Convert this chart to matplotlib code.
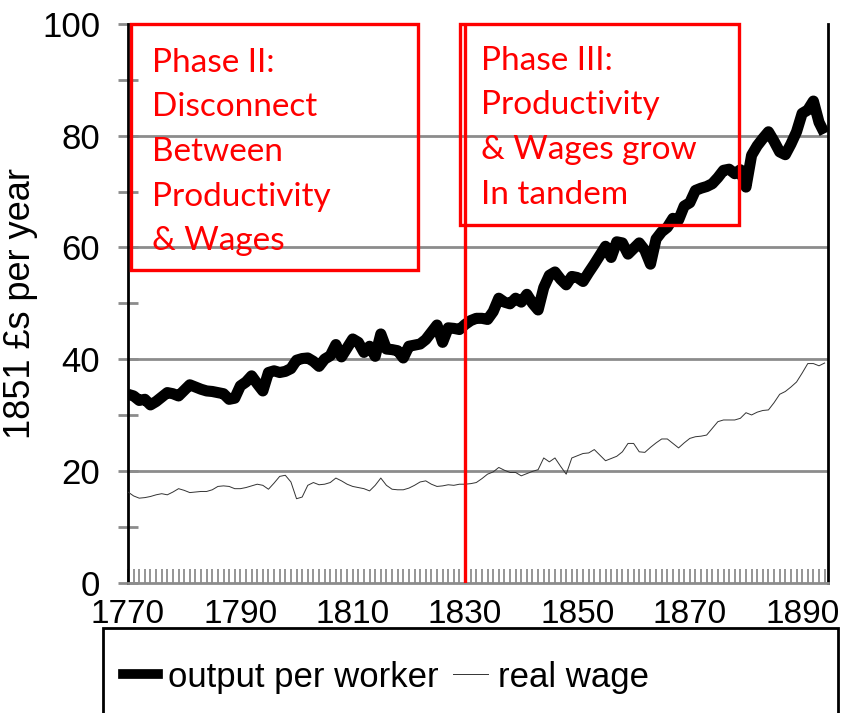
import numpy as np
import matplotlib
matplotlib.use('Agg')
import matplotlib.pyplot as plt
from matplotlib.patches import Rectangle
from matplotlib.lines import Line2D

plt.rcParams['font.family'] = ['Liberation Sans', 'DejaVu Sans']

# Data
years = list(range(1770, 1895))

output_per_worker = [
    33.7, 33.4, 32.6, 32.8, 31.8, 32.4, 33.2, 34.0, 33.8, 33.4,   # 1770s
    34.4, 35.4, 35.0, 34.6, 34.3, 34.2, 34.0, 33.8, 32.8, 33.0,   # 1780s
    35.2, 35.9, 37.0, 35.6, 34.3, 37.6, 37.9, 37.6, 37.8, 38.3,   # 1790s
    39.8, 40.1, 40.2, 39.6, 38.7, 40.0, 40.6, 42.6, 40.4, 42.0,   # 1800s
    43.6, 43.0, 41.2, 42.3, 40.5, 44.5, 41.8, 41.7, 41.5, 40.2,   # 1810s
    42.3, 42.5, 42.7, 43.5, 44.8, 46.1, 43.0, 45.6, 45.5, 45.3,   # 1820s
    46.2, 46.9, 47.3, 47.3, 47.1, 48.5, 50.9, 50.2, 49.9, 50.9,   # 1830s
    50.2, 51.6, 50.0, 48.8, 52.8, 55.0, 55.6, 54.3, 53.3, 54.8,   # 1840s
    54.6, 53.9, 55.5, 57.0, 58.6, 60.2, 58.2, 61.0, 60.8, 58.8,   # 1850s
    59.8, 60.8, 59.5, 57.0, 61.5, 62.8, 63.6, 65.2, 64.9, 67.4,   # 1860s
    68.0, 70.2, 70.6, 70.9, 71.4, 72.5, 73.8, 74.0, 73.2, 73.9,   # 1870s
    70.8, 76.5, 78.2, 79.5, 80.7, 79.0, 77.1, 76.6, 78.5, 80.7,   # 1880s
    84.0, 84.6, 86.2, 82.4, 80.4,                                 # 1890s
]

real_wage = [
    16.2, 15.5, 15.1, 15.2, 15.4, 15.7, 15.9, 15.7, 16.2, 16.8,
    16.5, 16.1, 16.2, 16.3, 16.3, 16.6, 17.2, 17.3, 17.2, 16.8,
    16.8, 17.0, 17.3, 17.6, 17.4, 16.7, 17.8, 19.0, 19.2, 18.0,
    15.0, 15.3, 17.4, 17.9, 17.5, 17.6, 17.9, 18.7, 18.2, 17.6,
    17.2, 17.0, 16.8, 16.4, 17.4, 18.7, 17.4, 16.7, 16.6, 16.6,
    16.9, 17.4, 18.0, 18.2, 17.6, 17.2, 17.3, 17.5, 17.4, 17.6,
    17.6, 17.7, 17.9, 18.6, 19.4, 19.8, 20.6, 20.1, 19.7, 19.7,
    19.1, 19.5, 19.9, 20.2, 22.3, 21.6, 22.3, 20.8, 19.4, 22.3,
    22.7, 23.1, 23.2, 23.8, 22.8, 21.8, 22.2, 22.6, 23.4, 24.9,
    24.9, 23.4, 23.3, 24.2, 25.0, 25.7, 25.7, 24.9, 24.1, 25.0,
    25.8, 26.1, 26.2, 26.4, 27.6, 28.8, 29.1, 29.1, 29.1, 29.4,
    30.4, 30.0, 30.5, 30.8, 30.9, 32.2, 33.7, 34.2, 35.0, 35.9,
    37.5, 39.2, 39.2, 38.8, 39.3,
]

phase2_lines = ['Phase II:', 'Disconnect', 'Between', 'Productivity', '& Wages']
phase3_lines = ['Phase III:', 'Productivity', '& Wages grow', 'In tandem']
split_year = 1830

W, H = 854, 713
fig = plt.figure(figsize=(W / 100, H / 100), dpi=100)
ax = fig.add_axes([128 / W, 1 - 582.5 / H, 700 / W, 558.5 / H])

ax.plot(years, output_per_worker, color='black', linewidth=8,
        solid_joinstyle='round', solid_capstyle='butt', zorder=3,
        label='output per worker')
ax.plot(years, real_wage, color='#333333', linewidth=0.7, zorder=3,
        label='real wage')

ax.set_xlim(1770, 1894.6)
ax.set_ylim(0, 100)

# Gridlines
for y in [20, 40, 60, 80]:
    ax.axhline(y, color='#8c8c8c', linewidth=2, zorder=1)

# Spines
ax.spines['top'].set_visible(False)
ax.spines['left'].set_linewidth(2)
ax.spines['right'].set_linewidth(2)
ax.spines['bottom'].set_color('#8c8c8c')
ax.spines['bottom'].set_linewidth(2)

# Ticks
ax.set_yticks(np.arange(0, 101, 20))
ax.set_yticks(np.arange(10, 100, 20), minor=True)
ax.set_xticks(np.arange(1770, 1891, 20))
ax.set_xticks(np.arange(1770, 1895, 1), minor=True)
ax.tick_params(axis='y', which='both', direction='inout', length=14, width=2,
               color='#8c8c8c', labelsize=25, pad=13)
ax.tick_params(axis='x', which='major', direction='in', length=10, width=1.3,
               color='#8c8c8c', labelsize=24, pad=12)
ax.tick_params(axis='x', which='minor', direction='in', length=10, width=1.3,
               color='#8c8c8c')
ax.set_ylabel('1851 £s per year', fontsize=26, labelpad=3)

# Phase divider and annotation boxes
ax.axvline(split_year, color='red', linewidth=2.4, zorder=4)
ax.add_patch(Rectangle((1770.5, 56), 51.1, 44, fill=False, edgecolor='red',
                       linewidth=2.4, clip_on=False, zorder=4))
ax.add_patch(Rectangle((1829.1, 64), 49.6, 36, fill=False, edgecolor='red',
                       linewidth=2.4, clip_on=False, zorder=4))

for i, line in enumerate(phase2_lines):
    fig.text(152 / W, 1 - (72 + i * 44.5) / H, line, color='red', fontsize=24,
             family='Lato', va='baseline', ha='left')
for i, line in enumerate(phase3_lines):
    fig.text(481 / W, 1 - (70 + i * 44.5) / H, line, color='red', fontsize=24,
             family='Lato', va='baseline', ha='left')

# Legend box at the bottom
fig.patches.append(Rectangle((103 / W, -0.02), 735 / W, 1 - 628 / H + 0.02,
                             transform=fig.transFigure, fill=False,
                             edgecolor='black', linewidth=2))
handles = [Line2D([], [], color='black', linewidth=7),
           Line2D([], [], color='#333333', linewidth=0.7)]
fig.legend(handles, ['output per worker', 'real wage'], loc='center left',
           bbox_to_anchor=(92 / W, 1 - 677 / H), ncol=2, frameon=False,
           fontsize=25, handlelength=1.0, handletextpad=0.3, columnspacing=0.4)

fig.savefig('out.png', dpi=100)
